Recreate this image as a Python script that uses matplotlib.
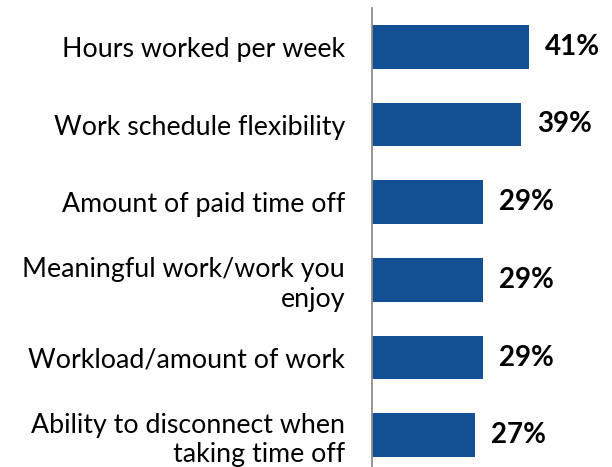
import matplotlib
matplotlib.use("Agg")
import matplotlib.pyplot as plt

categorias = [
    "Hours worked per week",
    "Work schedule flexibility",
    "Amount of paid time off",
    "Meaningful work/work you\nenjoy",
    "Workload/amount of work",
    "Ability to disconnect when\ntaking time off",
]
valores = [41, 39, 29, 29, 29, 27]

plt.rcParams['font.family'] = ['Lato', 'DejaVu Sans']

fig = plt.figure(figsize=(6.12, 4.67), dpi=100)
ax = fig.add_axes([372 / 612, -7 / 467, 240 / 612, 466 / 467])

y = list(range(len(categorias)))
ax.barh(y, valores, height=0.56, color="#134F93")

for yi, v in zip(y, valores):
    ax.text(v + 4.2, yi, f"{v}%", va="center", ha="left",
            fontsize=20, fontweight="bold", color="black")

ax.set_xlim(0, 62.7)
ax.set_ylim(5.5, -0.5)
ax.set_yticks(y)
ax.set_yticklabels(categorias, fontsize=19.3, linespacing=1.22, ha="right")
ax.tick_params(axis="y", length=0, pad=19.5)
ax.set_xticks([])

for s in ["top", "right", "bottom"]:
    ax.spines[s].set_visible(False)
ax.spines["left"].set_color("#8c8c8c")
ax.spines["left"].set_linewidth(1.3)

fig.savefig("out.png", dpi=100)
